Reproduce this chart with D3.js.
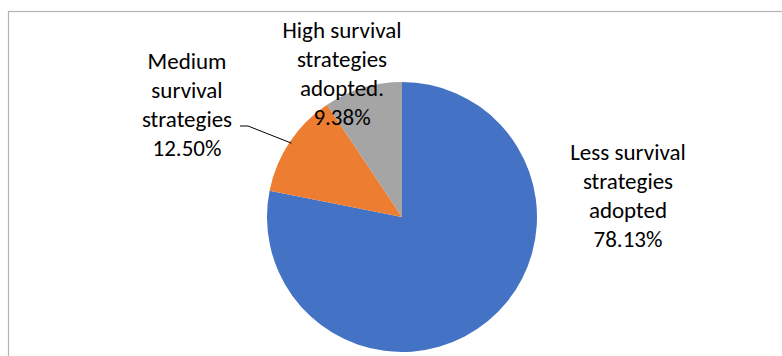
<!DOCTYPE html>
<html>
<head>
<meta charset="utf-8">
<script src="https://cdn.jsdelivr.net/npm/d3@7"></script>
<style>
  html, body { margin: 0; padding: 0; background: #fff; }
  svg { display: block; }
  text { font-family: Carlito, Lato, "Liberation Sans", sans-serif; fill: #000; }
</style>
</head>
<body>
<script>
// Survival strategy shares, clockwise from 12 o'clock
const categories = ["Less survival strategies adopted", "Medium survival strategies", "High survival strategies adopted."];
const values = [78.13, 12.50, 9.38];
const colors = ["#4472c4", "#ed7d31", "#a5a5a5"];
// Multi-line label text for each slice
const labelLines = [
  ["Less survival", "strategies", "adopted"],
  ["Medium", "survival", "strategies"],
  ["High survival", "strategies", "adopted."]
];

const W = 782, H = 356;
const cx = 402, cy = 217, R = 135;

const svg = d3.select("body").append("svg")
  .attr("width", W).attr("height", H);

// Chart area frame (extends beyond the visible window on right/bottom)
svg.append("rect")
  .attr("x", 8.5).attr("y", 11.5)
  .attr("width", 900).attr("height", 500)
  .attr("fill", "none")
  .attr("stroke", "#b4b4b4")
  .attr("stroke-width", 1.2);

const pie = d3.pie().sort(null).value(d => d)(values);
const arc = d3.arc().innerRadius(0).outerRadius(R);

const g = svg.append("g").attr("transform", `translate(${cx},${cy})`);
g.selectAll("path")
  .data(pie)
  .join("path")
  .attr("d", arc)
  .attr("fill", (d, i) => colors[i]);

// Label placement (center x, first baseline y) for each slice
const labelPos = [
  { x: 628, y: 160 },
  { x: 187, y: 69 },
  { x: 342, y: 38 }
];
const lineH = 29;

labelLines.forEach((lines, i) => {
  const t = svg.append("text")
    .attr("text-anchor", "middle")
    .attr("font-size", 23);
  const all = lines.concat([d3.format(".2f")(values[i]) + "%"]);
  all.forEach((s, k) => {
    t.append("tspan")
      .attr("x", labelPos[i].x)
      .attr("y", labelPos[i].y + k * lineH)
      .text(s);
  });
});

// Leader line for the medium slice label
const mid = pie[1];
const ang = (mid.startAngle + mid.endAngle) / 2;
const edge = [cx + Math.sin(ang) * (R - 2), cy - Math.cos(ang) * (R - 2)];
svg.append("polyline")
  .attr("points", [[240, 126], [248, 126], edge].map(p => p.join(",")).join(" "))
  .attr("fill", "none")
  .attr("stroke", "#000")
  .attr("stroke-width", 1);
</script>
</body>
</html>
